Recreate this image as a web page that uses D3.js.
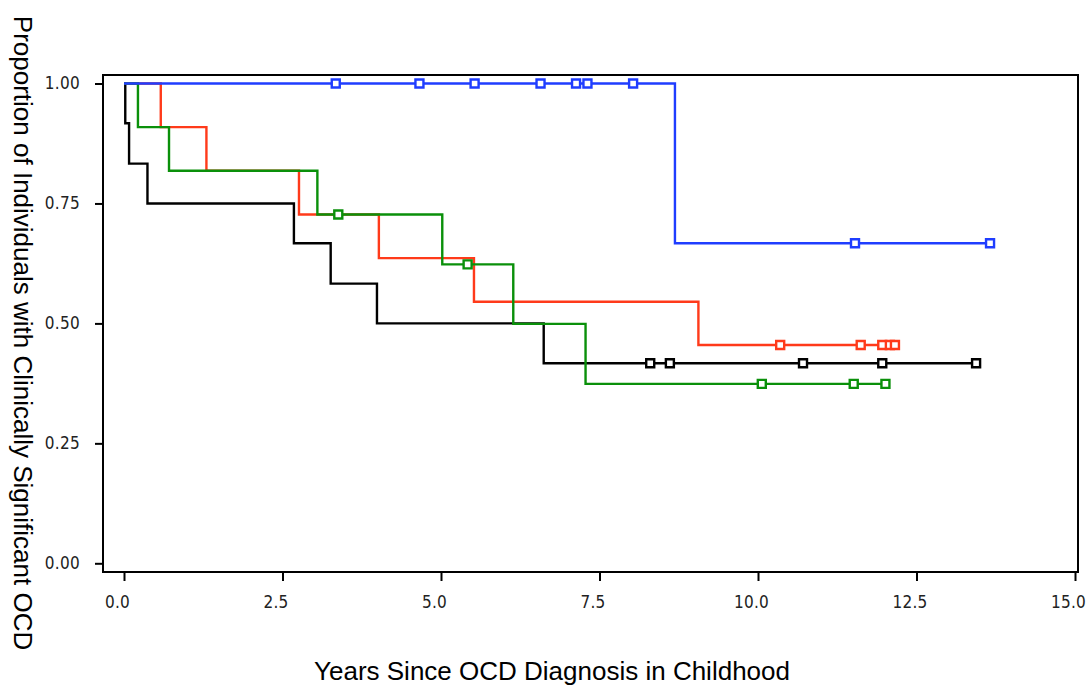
<!DOCTYPE html>
<html>
<head>
<meta charset="utf-8">
<script src="https://cdn.jsdelivr.net/npm/d3@7"></script>
<style>
  body { margin: 0; background: #fff; }
  .tick text { font-family: "Liberation Sans Narrow", "DejaVu Sans Condensed", sans-serif; font-size: 17px; fill: #222; letter-spacing: 0.3px; }
  .title { font-family: "Liberation Sans", Arial, sans-serif; font-size: 26px; fill: #000; }
</style>
</head>
<body>
<svg id="chart"></svg>
<script>
// tick labels
var xTicks = [0, 2.5, 5, 7.5, 10, 12.5, 15];
var yTicks = [0, 0.25, 0.5, 0.75, 1];

// step times and survival levels
var blackTimes = [0.02, 0.08, 0.37, 2.68, 3.26, 3.99, 6.62];
var blackSurv = [0.917, 0.833, 0.75, 0.667, 0.583, 0.5, 0.417];
var blackCensor = [8.30, 8.61, 10.71, 11.96, 13.44];

var redTimes = [0.58, 1.30, 2.76, 4.02, 5.52, 9.06];
var redSurv = [0.909, 0.818, 0.727, 0.636, 0.545, 0.455];
var redCensor = [10.35, 11.62, 11.96, 12.08, 12.16];

var greenTimes = [0.22, 0.71, 3.05, 5.02, 6.14, 7.28];
var greenSurv = [0.909, 0.818, 0.727, 0.623, 0.499, 0.374];
var greenCensor = [3.38, 5.42, 10.06, 11.51, 12.01];

var blueTimes = [8.69];
var blueSurv = [0.667];
var blueCensor = [3.34, 4.66, 5.53, 6.57, 7.13, 7.31, 8.03, 11.53, 13.66];

var w = 1088;
var h = 687;

var svg = d3.select("#chart").attr("width", w).attr("height", h);

var x = d3.scaleLinear().domain([0, 15]).range([124, 1075]);
var y = d3.scaleLinear().domain([0, 1]).range([563.3, 83.5]);

// frame
svg.append("rect")
  .attr("x", 103).attr("y", 75)
  .attr("width", 1078 - 103).attr("height", 572 - 75)
  .attr("fill", "none")
  .attr("stroke", "#000")
  .attr("stroke-width", 2);

var yAxis = svg.append("g")
  .attr("transform", "translate(103,0)")
  .call(d3.axisLeft(y).tickValues(yTicks).tickFormat(d3.format(".2f")).tickSize(8).tickPadding(15));

var xAxis = svg.append("g")
  .attr("transform", "translate(0,572)")
  .call(d3.axisBottom(x).tickValues(xTicks).tickFormat(d3.format(".1f")).tickSize(9).tickPadding(15));

// SPSS puts x labels a bit left of their ticks
xAxis.selectAll(".tick text").attr("dx", -7);

[yAxis, xAxis].forEach(function(g) {
  g.select(".domain").remove();
  g.selectAll(".tick line").attr("stroke", "#000").attr("stroke-width", 2);
});

// series
var series = [
  { color: "#000000", times: blackTimes, surv: blackSurv, censor: blackCensor },
  { color: "#ff3a1a", times: redTimes, surv: redSurv, censor: redCensor },
  { color: "#0a900a", times: greenTimes, surv: greenSurv, censor: greenCensor },
  { color: "#1f3dff", times: blueTimes, surv: blueSurv, censor: blueCensor }
];

var line = d3.line()
  .x(function(d) { return x(d[0]); })
  .y(function(d) { return y(d[1]); })
  .curve(d3.curveStepAfter);

// survival level at a given time
function survAt(s, t) {
  var v = 1;
  s.times.forEach(function(tt, i) { if (tt <= t) v = s.surv[i]; });
  return v;
}

series.forEach(function(s) {
  var pts = [[0, 1]];
  s.times.forEach(function(t, i) { pts.push([t, s.surv[i]]); });
  var end = Math.max(d3.max(s.censor), d3.max(s.times));
  pts.push([end, s.surv[s.surv.length - 1]]);

  var g = svg.append("g");
  g.append("path")
    .attr("d", line(pts))
    .attr("fill", "none")
    .attr("stroke", s.color)
    .attr("stroke-width", 2.4);

  g.selectAll("path.cens")
    .data(s.censor)
    .enter()
    .append("path")
    .attr("class", "cens")
    .attr("d", d3.symbol().type(d3.symbolSquare).size(64))
    .attr("transform", function(d) { return "translate(" + x(d) + "," + y(survAt(s, d)) + ")"; })
    .attr("fill", "#fff")
    .attr("stroke", s.color)
    .attr("stroke-width", 2.4);
});

// titles
svg.append("text")
  .attr("class", "title")
  .attr("x", 552).attr("y", 680)
  .attr("text-anchor", "middle")
  .text("Years Since OCD Diagnosis in Childhood");

svg.append("text")
  .attr("class", "title")
  .attr("transform", "translate(14,333) rotate(90)")
  .attr("text-anchor", "middle")
  .text("Proportion of Individuals with Clinically Significant OCD");
</script>
</body>
</html>
